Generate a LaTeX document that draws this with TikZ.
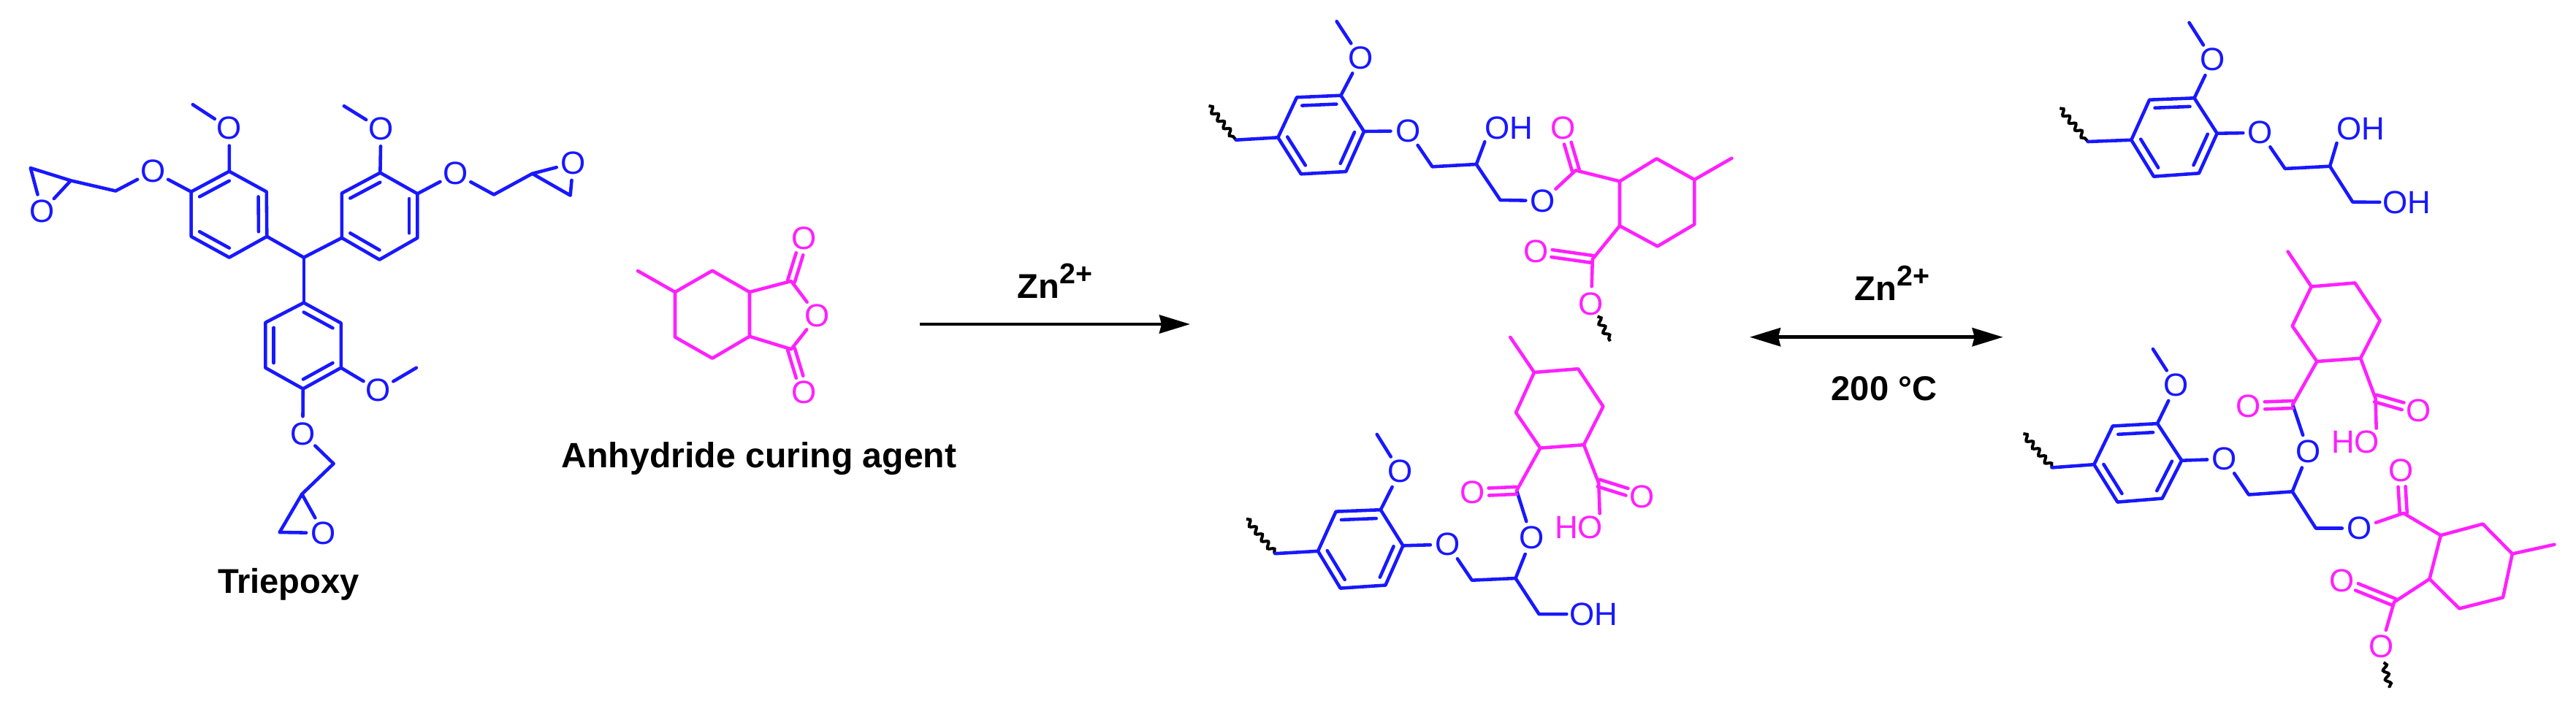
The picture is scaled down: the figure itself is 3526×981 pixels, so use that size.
\documentclass[tikz,border=0pt]{standalone}
\usepackage{fontspec}
\usepackage{graphicx}
\setmainfont{Liberation Sans}
\usetikzlibrary{calc,arrows.meta,decorations.pathmorphing}
\definecolor{blueink}{HTML}{1818FF}
\definecolor{magink}{HTML}{FF20FF}
\tikzset{
  x=0.01cm,y=-0.01cm,
  bb/.style={blueink,line width=1.3pt,line cap=round,line join=round},
  mm/.style={magink,line width=1.3pt,line cap=round,line join=round},
  atomb/.style={circle,inner sep=0pt,minimum size=0.46cm,text=blueink,font=\fontsize{12.5}{14}\selectfont},
  atomm/.style={atomb,text=magink},
  labb/.style={rectangle,inner sep=0.03cm,text=blueink,font=\fontsize{12.5}{14}\selectfont},
  labm/.style={labb,text=magink},
  caption/.style={inner sep=0pt,font=\fontsize{13.4}{16}\selectfont\bfseries,text=black},
  wave/.style={black,line width=1.15pt,decorate,decoration={snake,segment length=0.13cm,amplitude=0.035cm}},
  rxn/.style={black,line width=1.35pt},
  tipp/.tip={Stealth[length=0.42cm,width=0.25cm,inset=0.03cm]}
}
\newcommand{\pts}[1]{\foreach \n/\xx/\yy in {#1} \coordinate (\n) at (\xx,\yy);}
\newcommand{\dbl}[4][bb]{\draw[#1] ($(#2)!.22!(#4)$) -- ($(#3)!.22!(#4)$);}
\newcommand{\cdbl}[2]{\draw[mm,shorten >=0.22cm] ($(#1)!0.05cm!90:(#2)$) -- ($(#2)!0.05cm!-90:(#1)$);
  \draw[mm,shorten >=0.22cm] ($(#1)!0.05cm!-90:(#2)$) -- ($(#2)!0.05cm!90:(#1)$);}
\newcommand{\znlabel}{Zn\raisebox{0.2cm}{\fontsize{11.2}{12}\selectfont 2+}}
\begin{document}
\begin{tikzpicture}
\useasboundingbox (0,0) rectangle (3526,981);

% ---------- Triepoxy ----------
\pts{a1/313.8/234.7,a2/364.8/262.6,a3/365.3/323.9,a4/313.8/352.6,a5/261.7/323.9,a6/261.7/262.6,
     ac/313.8/293.6,ame/263.8/143.2,ach/158.2/261.5,aep/96.9/247.3,aepc/41.8/230.1,
     cen/415.8/352.6,
     b1/520.4/236.6,b2/571.4/265.3,b3/571.4/325.8,b4/519.4/355.6,b5/467.9/325.8,b6/467.9/264.6,
     bc/519.9/296,bme/470.9/145.2,bch/676/266.5,bep/728.6/237.8,bepc/780.6/267.6,
     c1/415.8/414.6,c2/466.8/442.5,c3/466.8/503.7,c4/414.8/532.5,c5/363.3/503.7,c6/363.3/441.8,
     cc/415.3/473.5,cme/569.9/503.7,cch/456.6/635,cep/413.3/676.7,cepc/382.7/729}
\node[atomb] (aom) at (313.8,175.8) {O};
\node[atomb] (aop) at (209.2,234.7) {O};
\node[atomb] (aoe) at (57.7,289.4) {O};
\node[atomb] (bom) at (521.4,176.5) {O};
\node[atomb] (bop) at (623.5,237.8) {O};
\node[atomb] (boe) at (784.7,223.2) {O};
\node[atomb] (com) at (517.9,534.4) {O};
\node[atomb] (cop) at (414.3,594) {O};
\node[atomb] (coe) at (442.9,730) {O};
\draw[bb] (a1)--(a2)--(a3)--(a4)--(a5)--(a6)--cycle;
\draw[bb] (b1)--(b2)--(b3)--(b4)--(b5)--(b6)--cycle;
\draw[bb] (c1)--(c2)--(c3)--(c4)--(c5)--(c6)--cycle;
\dbl{a6}{a1}{ac}\dbl{a2}{a3}{ac}\dbl{a4}{a5}{ac}
\dbl{b6}{b1}{bc}\dbl{b2}{b3}{bc}\dbl{b4}{b5}{bc}
\dbl{c1}{c2}{cc}\dbl{c5}{c6}{cc}\dbl{c3}{c4}{cc}
\draw[bb] (a3)--(cen)--(b5);
\draw[bb] (cen)--(c1);
\draw[bb] (ame)--(aom)--(a1);
\draw[bb] (bme)--(bom)--(b1);
\draw[bb] (cme)--(com)--(c3);
\draw[bb] (a6)--(aop)--(ach)--(aep)--(aepc)--(aoe)--(aep);
\draw[bb] (b2)--(bop)--(bch)--(bep)--(boe)--(bepc)--(bep);
\draw[bb] (c4)--(cop)--(cch)--(cep)--(coe)--(cepc)--(cep);
\node[caption,anchor=base] (tname) at (395,812) {Triepoxy};

% ---------- Anhydride ----------
\pts{hme/873/371,h1/924/400,h2/975/370.7,h3/1026/400,h4/1026/460.7,h5/975/490.7,h6/924/461.7,
     hct/1083/385,hcb/1083/478.3}
\node[atomm] (hot) at (1101,326.7) {O};
\node[atomm] (hor) at (1118.9,432.7) {O};
\node[atomm] (hob) at (1101,537.3) {O};
\draw[mm] (hme)--(h1)--(h2)--(h3)--(h4)--(h5)--(h6)--(h1);
\draw[mm] (h3)--(hct)--(hor)--(hcb)--(h4);
\cdbl{hct}{hot}
\cdbl{hcb}{hob}
\node[caption,anchor=base,font=\fontsize{13.7}{16}\selectfont\bfseries] (hname) at (1039,640) {Anhydride curing agent};

% ---------- Arrows ----------
\pts{ar1s/1259/444,ar1e/1629/444,ar2s/2395/461.7,ar2e/2741.7/461.7}
\draw[rxn,-{tipp}] (ar1s)--(ar1e);
\draw[rxn,{tipp}-{tipp}] (ar2s)--(ar2e);
\node[caption,anchor=base west] (zn1) at (1392,408) {\znlabel};
\node[caption,anchor=base west] (zn2) at (2538,411.7) {\znlabel};
\node[caption,anchor=base] (tmp) at (2579,548.3) {200 °C};

% ---------- Product 1 (top middle) ----------
\pts{dw1/1654.5/145,dw2/1691.8/191.7,d1/1749.3/188.3,d2/1775/133.3,d3/1835.4/130.7,d4/1867/180,d5/1842.3/235,d6/1780.8/238.3,
     dc/1808/184.5,dme/1829.6/29.3,dch/1960.5/228.3,dci/2020.8/225,dcj/2053.5/274,
     e0/2156.8/233.3,e1/2217/248.3,e2/2267.6/217.3,e3/2319.3/246,eme/2370.4/216.7,e4/2319.3/307.3,e5/2268.8/337.3,e6/2217/309.3,
     e7/2179.8/355,ew1/2186.7/433.3,ew2/2203.9/467.3}
\node[atomb] (dom) at (1862.3,79.3) {O};
\node[atomb] (dop) at (1927.2,179.3) {O};
\node[labb] (doh) at (2065,175) {OH};
\node[atomb] (doe) at (2112,275) {O};
\node[atomm] (eot) at (2139.6,175) {O};
\node[atomm] (eol) at (2102.3,344) {O};
\node[atomm] (eob) at (2178,416) {O};
\draw[wave] (dw1)--(dw2);
\draw[wave] (ew1)--(ew2);
\draw[bb] (dw2)--(d1)--(d2)--(d3)--(d4)--(d5)--(d6)--(d1);
\dbl{d2}{d3}{dc}\dbl{d1}{d6}{dc}\dbl{d4}{d5}{dc}
\draw[bb] (dme)--(dom)--(d3);
\draw[bb] (d4)--(dop)--(dch)--(dci)--(dcj)--(doe);
\draw[bb] (dci)--($(doh.south west)+(4,0)$);
\draw[mm] (doe)--(e0)--(e1)--(e2)--(e3)--(eme);
\draw[mm] (e3)--(e4)--(e5)--(e6)--(e1);
\draw[mm] (e6)--(e7)--(eob);
\cdbl{e0}{eot}
\cdbl{e7}{eol}

% ---------- Product 2 (bottom middle) ----------
\pts{fw1/1706/710.8,fw2/1745.4/758.2,f1/1804/754.8,f2/1828.6/700.6,f3/1889.8/698.2,f4/1920.4/747.3,f5/1896.4/801.5,f6/1834.7/805.6,
     fc/1862/752,fme/1884.7/594.9,fch/2014.8/794.7,fci/2074.5/792,fcj/2106.6/841.1,
     g0/2076/671.8,g1/2108.2/613.6,g2/2167.9/609.2,g3/2194.4/556.7,g4/2160.2/505.2,g5/2100/510,g6/2075/565.1,gme/2067.3/461.9,g7/2188.3/661.6}
\node[atomb] (fom) at (1916.3,645.7) {O};
\node[atomb] (fop) at (1981.6,745.6) {O};
\node[atomb] (foc) at (2096.4,736.8) {O};
\node[labb] (foh) at (2181,841) {OH};
\node[atomm] (gol) at (2015.8,674.5) {O};
\node[atomm] (gor) at (2248,680.3) {O};
\node[labm] (gho) at (2161,722.6) {HO};
\draw[wave] (fw1)--(fw2);
\draw[bb] (fw2)--(f1)--(f2)--(f3)--(f4)--(f5)--(f6)--(f1);
\dbl{f2}{f3}{fc}\dbl{f1}{f6}{fc}\dbl{f4}{f5}{fc}
\draw[bb] (fme)--(fom)--(f3);
\draw[bb] (f4)--(fop)--(fch)--(fci)--(fcj)--(foh);
\draw[bb] (fci)--(foc)--(g0);
\draw[mm] (g0)--(g1)--(g2)--(g3)--(g4)--(g5)--(g6)--(g1);
\draw[mm] (g5)--(gme);
\draw[mm] (g2)--(g7)--($(gho.north east)+(-8,0)$);
\cdbl{g0}{gol}
\cdbl{g7}{gor}

% ---------- Product 3 (top right) ----------
\pts{iw1/2819.3/148.3,iw2/2857.9/194,i1/2917.3/191.7,i2/2942.1/136.7,i3/3003.5/134.3,i4/3034.7/182.7,i5/3009.9/237.3,i6/2948/241.7,
     ic/2976/187,ime/2996.5/31,ich/3127.7/231,ici/3189.1/227.7,icj/3220.3/276.7}
\node[atomb] (iom) at (3028.7,81.7) {O};
\node[atomb] (iop) at (3094,181.7) {O};
\node[labb] (ioh) at (3231.2,176.7) {OH};
\node[labb] (ioj) at (3294,277) {OH};
\draw[wave] (iw1)--(iw2);
\draw[bb] (iw2)--(i1)--(i2)--(i3)--(i4)--(i5)--(i6)--(i1);
\dbl{i2}{i3}{ic}\dbl{i1}{i6}{ic}\dbl{i4}{i5}{ic}
\draw[bb] (ime)--(iom)--(i3);
\draw[bb] (i4)--(iop)--(ich)--(ici)--(icj)--(ioj);
\draw[bb] (ici)--($(ioh.south west)+(4,0)$);

% ---------- Product 4 (bottom right) ----------
\pts{jw1/2769.4/594,jw2/2808.7/640.4,j1/2866.3/636.2,j2/2891.8/583.5,j3/2953/580.1,j4/2986.2/630.7,j5/2959.7/682.6,j6/2898.4/687.6,
     jc/2926/635,jme/2946.9/478.1,jch/3078/677.5,jci/3137.7/673.3,jcj/3169.9/723.5,
     k0/3138.2/554,k1/3171.4/495,k2/3231.1/490.7,k3/3257.6/438.9,k4/3223.4/387.5,k5/3163.8/392.5,k6/3137.7/446.5,kme/3131.6/344.5,k7/3251.5/545.5,
     l0/3289.8/702.8,l1/3340.8/733.2,l2/3398.4/717.6,l3/3438.8/758.5,lme/3496.4/745.8,l4/3426/818.3,l5/3366.3/833.5,l6/3325.5/793,l7/3277/824.6,
     lw1/3262.7/907.3,lw2/3270.9/941.9}
\node[atomb] (jom) at (2978.6,527.4) {O};
\node[atomb] (jop) at (3044.9,628.6) {O};
\node[atomb] (joc) at (3159.7,618.5) {O};
\node[atomb] (joe) at (3229.6,723.5) {O};
\node[atomm] (kol) at (3078,556.1) {O};
\node[atomm] (kor) at (3310.2,562.4) {O};
\node[labm] (kho) at (3224,605.8) {HO};
\node[atomm] (lot) at (3286.2,644.6) {O};
\node[atomm] (lol) at (3205.6,795.6) {O};
\node[atomm] (lob) at (3259.2,885.8) {O};
\draw[wave] (jw1)--(jw2);
\draw[wave] (lw1)--(lw2);
\draw[bb] (jw2)--(j1)--(j2)--(j3)--(j4)--(j5)--(j6)--(j1);
\dbl{j2}{j3}{jc}\dbl{j1}{j6}{jc}\dbl{j4}{j5}{jc}
\draw[bb] (jme)--(jom)--(j3);
\draw[bb] (j4)--(jop)--(jch)--(jci)--(jcj)--(joe);
\draw[bb] (jci)--(joc)--(k0);
\draw[mm] (k0)--(k1)--(k2)--(k3)--(k4)--(k5)--(k6)--(k1);
\draw[mm] (k5)--(kme);
\draw[mm] (k2)--(k7)--($(kho.north east)+(-8,0)$);
\cdbl{k0}{kol}
\cdbl{k7}{kor}
\draw[mm] (joe)--(l0)--(l1)--(l2)--(l3)--(lme);
\draw[mm] (l3)--(l4)--(l5)--(l6)--(l1);
\draw[mm] (l6)--(l7)--(lob);
\cdbl{l0}{lot}
\cdbl{l7}{lol}
\end{tikzpicture}
\end{document}
